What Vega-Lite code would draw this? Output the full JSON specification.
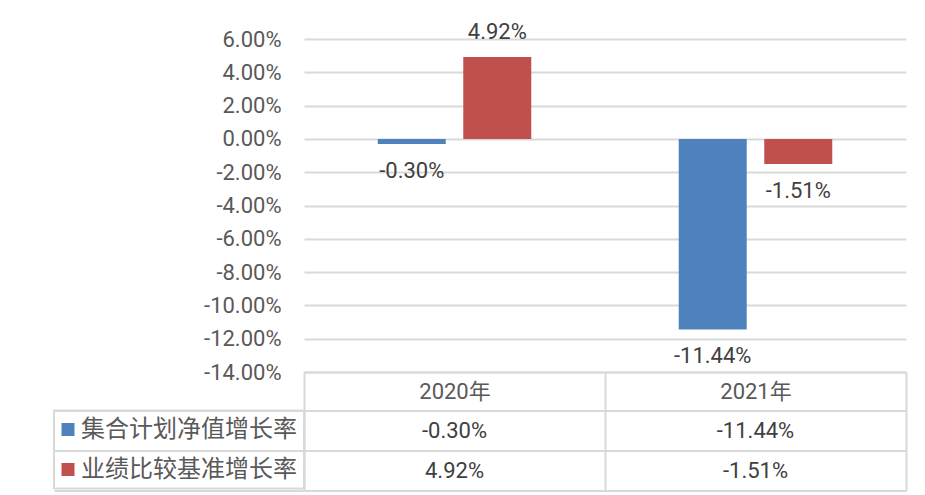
{
  "$schema": "https://vega.github.io/schema/vega-lite/v6.json",
  "padding": {"left": 53, "top": 20, "right": 5, "bottom": 5},
  "bounds": "flush",
  "spacing": 38.5,
  "data": {
    "values": [
      {"year": "2020年", "series": "集合计划净值增长率", "value": -0.0030},
      {"year": "2020年", "series": "业绩比较基准增长率", "value": 0.0492},
      {"year": "2021年", "series": "集合计划净值增长率", "value": -0.1144},
      {"year": "2021年", "series": "业绩比较基准增长率", "value": -0.0151}
    ]
  },
  "vconcat": [
    {
      "width": 602,
      "height": 333,
      "encoding": {
        "x": {
          "field": "year", "type": "nominal",
          "scale": {"paddingInner": 0, "paddingOuter": 0},
          "axis": {
            "orient": "bottom", "title": null, "labelAngle": 0,
            "labelFontSize": 22, "labelFont": "Roboto, Noto Sans CJK SC", "labelColor": "#595959",
            "ticks": true, "tickBand": "extent", "tickSize": 38.5, "tickColor": "#D9D9D9", "tickWidth": 2,
            "domain": true, "domainColor": "#D9D9D9", "domainWidth": 2,
            "labelBaseline": "middle", "labelPadding": -19, "grid": false
          }
        },
        "xOffset": {
          "field": "series", "type": "nominal",
          "sort": ["集合计划净值增长率", "业绩比较基准增长率"],
          "scale": {"paddingInner": 0.205, "paddingOuter": 0.862}
        },
        "y": {
          "field": "value", "type": "quantitative",
          "scale": {"domain": [-0.14, 0.06], "nice": false, "zero": false},
          "axis": {
            "values": [-0.14, -0.12, -0.1, -0.08, -0.06, -0.04, -0.02, 0, 0.02, 0.04, 0.06],
            "format": ".2%", "title": null,
            "grid": true, "gridColor": "#D9D9D9", "gridWidth": 2,
            "domain": false, "ticks": false, "labelPadding": 23,
            "labelFontSize": 22, "labelFont": "Roboto", "labelColor": "#595959"
          }
        }
      },
      "layer": [
        {
          "mark": {"type": "bar"},
          "encoding": {
            "color": {
              "field": "series", "type": "nominal",
              "sort": ["集合计划净值增长率", "业绩比较基准增长率"],
              "scale": {"domain": ["集合计划净值增长率", "业绩比较基准增长率"], "range": ["#4F81BD", "#C0504D"]},
              "legend": {
                "orient": "none", "legendX": -250, "legendY": 371.5, "title": null,
                "direction": "vertical", "symbolType": "square", "symbolSize": 169,
                "symbolStrokeWidth": 0, "symbolOffset": -5, "labelFont": "Noto Sans CJK SC", "labelFontSize": 24,
                "labelColor": "#595959", "labelOffset": 1, "rowPadding": 16, "padding": 7,
                "strokeColor": "#D9D9D9", "labelLimit": 300
              }
            }
          }
        },
        {
          "transform": [{"filter": "datum.value >= 0"}],
          "mark": {"type": "text", "dy": -25, "fontSize": 22, "font": "Roboto", "color": "#404040", "baseline": "middle"},
          "encoding": {"text": {"field": "value", "type": "quantitative", "format": ".2%"}}
        },
        {
          "transform": [{"filter": "datum.value < 0"}],
          "mark": {"type": "text", "dy": 27, "fontSize": 22, "font": "Roboto", "color": "#404040", "baseline": "middle"},
          "encoding": {"text": {"field": "value", "type": "quantitative", "format": ".2%"}}
        }
      ]
    },
    {
      "width": 602,
      "height": 80,
      "mark": {"type": "text", "fontSize": 22, "font": "Roboto", "color": "#404040", "baseline": "middle"},
      "encoding": {
        "x": {
          "field": "year", "type": "nominal",
          "scale": {"paddingInner": 0, "paddingOuter": 0},
          "axis": {"orient": "top", "grid": true, "tickBand": "extent", "labels": false, "ticks": false, "domain": false, "title": null, "gridColor": "#D9D9D9", "gridWidth": 2}
        },
        "y": {
          "field": "series", "type": "nominal",
          "sort": ["集合计划净值增长率", "业绩比较基准增长率"],
          "scale": {"paddingInner": 0, "paddingOuter": 0},
          "axis": {"grid": true, "tickBand": "extent", "labels": false, "ticks": true, "tickSize": 250, "tickColor": "#D9D9D9", "tickWidth": 2, "domain": true, "domainColor": "#D9D9D9", "domainWidth": 2, "gridColor": "#D9D9D9", "gridWidth": 2, "title": null}
        },
        "text": {"field": "value", "type": "quantitative", "format": ".2%"}
      }
    }
  ],
  "config": {
    "view": {"stroke": null},
    "legend": {"strokeWidth": 2},
    "locale": {"number": {"decimal": ".", "thousands": ",", "grouping": [3], "currency": ["$", ""], "minus": "-"}}
  }
}
